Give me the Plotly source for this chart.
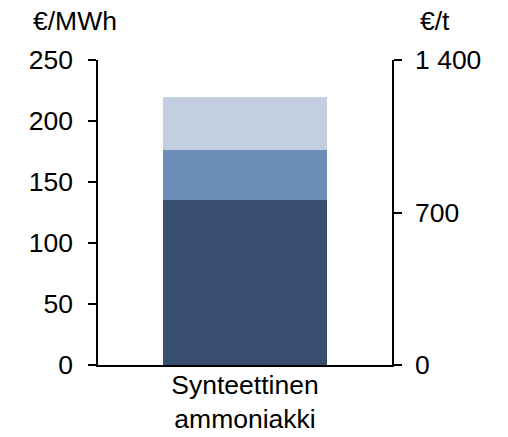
import plotly.graph_objects as go

category = ["Synteettinen<br>ammoniakki"]
seg_bottom = [135]
seg_middle = [41]
seg_top = [44]
left_ticks = [0, 50, 100, 150, 200, 250]
right_ticks = [0, 700, 1400]
right_labels = ["0", "700", "1 400"]

colors = ["#374e6e", "#6d8db9", "#c3cee0"]
font = dict(family="Liberation Sans, Arial, sans-serif", size=26.5, color="#000000")

W, H = 508, 437
L, R, T, B = 98, 116, 60, 72

fig = go.Figure()
for vals, c in zip([seg_bottom, seg_middle, seg_top], colors):
    fig.add_trace(go.Bar(x=category, y=vals, marker=dict(color=c, line=dict(width=0)),
                         width=0.557, showlegend=False))
# dummy trace so the right axis is drawn
fig.add_trace(go.Scatter(x=category, y=[None], yaxis="y2", showlegend=False))

fig.update_layout(
    width=W, height=H,
    margin=dict(l=L, r=R, t=T, b=B, pad=0),
    barmode="stack",
    plot_bgcolor="white", paper_bgcolor="white",
    font=font,
    xaxis=dict(showline=True, linecolor="#000000", linewidth=1.5, ticks="",
               showgrid=False, tickfont=font, automargin=False, ticklabelstandoff=-5),
    yaxis=dict(range=[0, 250], tickvals=left_ticks, showline=True, linecolor="#000000",
               linewidth=1.5, ticks="outside", ticklen=8, tickwidth=1.5, tickcolor="#000000",
               showgrid=False, zeroline=False, tickfont=font, automargin=False,
               ticklabelstandoff=10),
    yaxis2=dict(range=[0, 1400], tickvals=right_ticks, ticktext=right_labels,
                overlaying="y", side="right", showline=True, linecolor="#000000",
                linewidth=1.5, ticks="outside", ticklen=8, tickwidth=1.5, tickcolor="#000000",
                showgrid=False, zeroline=False, tickfont=font, automargin=False,
                ticklabelstandoff=8),
)
# axis unit titles, placed in pixel terms
pw = W - L - R
ph = H - T - B
def px(x, y):
    return (x - L) / pw, (H - B - y) / ph

ax, ay = px(75, 21)
fig.add_annotation(text="€/MWh", x=ax, y=ay, xref="paper", yref="paper",
                   showarrow=False, font=font, xanchor="center", yanchor="middle")
ax, ay = px(435, 21)
fig.add_annotation(text="€/t", x=ax, y=ay, xref="paper", yref="paper",
                   showarrow=False, font=font, xanchor="center", yanchor="middle")

# drop the default 8px body margin so the figure fills the window exactly
fig.write_html("out.html", config={"displayModeBar": False},
               post_script="document.body.style.margin='0';")
